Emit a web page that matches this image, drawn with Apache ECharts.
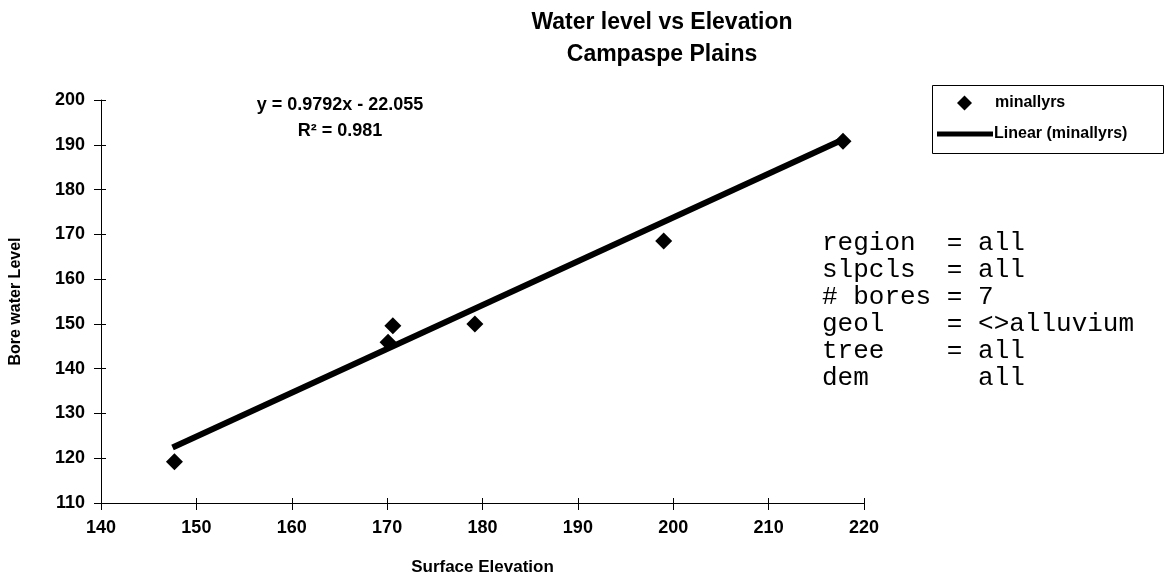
<!DOCTYPE html>
<html>
<head>
<meta charset="utf-8">
<script src="https://cdn.jsdelivr.net/npm/echarts@6/dist/echarts.min.js"></script>
<style>
  html, body { margin: 0; padding: 0; background: #fff; }
  #chart { width: 1169px; height: 586px; }
</style>
</head>
<body>
<div id="chart"></div>
<script>
// bore points (surface elevation, water level)
var elevation = [147.7, 170.1, 170.6, 179.2, 199.0, 217.8];
var waterLevel = [119.2, 145.9, 149.6, 150.0, 168.5, 190.8];

// ends of the fitted line as drawn
var trendX = [147.5, 217.8];
var trendY = [122.4, 191.2];

var xTicks = { min: 140, max: 220, step: 10 };
var yTicks = { min: 110, max: 200, step: 10 };

var infoLines = [
  'region  = all',
  'slpcls  = all',
  '# bores = 7',
  'geol    = <>alluvium',
  'tree    = all',
  'dem       all'
];

var chart = echarts.init(document.getElementById('chart'));

function pairs(xs, ys) {
  var out = [];
  for (var i = 0; i < xs.length; i++) out.push([xs[i], ys[i]]);
  return out;
}

var font = 'Liberation Sans, Arial, sans-serif';

// excel style crossing ticks: one axis ticks outside, a bare twin ticks inside
function axis(pos, range, withLabels, inside) {
  return {
    type: 'value',
    position: pos,
    min: range.min,
    max: range.max,
    interval: range.step,
    splitLine: { show: false },
    axisLine: { show: withLabels, lineStyle: { color: '#000', width: 1 } },
    axisTick: { show: true, inside: inside, length: inside ? 5 : 7, lineStyle: { color: '#000' } },
    axisLabel: {
      show: withLabels, color: '#000', fontSize: 18, fontWeight: 'bold', fontFamily: font, margin: 16
    }
  };
}

var xMain = axis('bottom', xTicks, true, false);
xMain.name = 'Surface Elevation';
xMain.nameLocation = 'middle';
xMain.nameGap = 56;
xMain.nameTextStyle = { color: '#000', fontSize: 17, fontWeight: 'bold', fontFamily: font };

var yMain = axis('left', yTicks, true, false);
yMain.name = 'Bore water Level';
yMain.nameLocation = 'middle';
yMain.nameGap = 77;
yMain.nameTextStyle = { color: '#000', fontSize: 16, fontWeight: 'bold', fontFamily: font };

var option = {
  backgroundColor: '#fff',
  animation: false,
  title: {
    text: 'Water level vs Elevation\nCampaspe Plains',
    left: 657,
    top: 2,
    textAlign: 'center',
    textStyle: { color: '#000', fontSize: 23, fontWeight: 'bold', fontFamily: font, lineHeight: 32 }
  },
  grid: { left: 101, right: 305, top: 100, bottom: 83, outerBoundsMode: 'none' },
  xAxis: [xMain, axis('bottom', xTicks, false, true)],
  yAxis: [yMain, axis('left', yTicks, false, true)],
  legend: [
    {
      data: ['minallyrs'],
      left: 952, top: 90,
      icon: 'diamond',
      itemWidth: 15, itemHeight: 15,
      textStyle: { color: '#000', fontSize: 16, fontWeight: 'bold', fontFamily: font, padding: [0, 0, 0, 18] }
    },
    {
      data: ['Linear (minallyrs)'],
      left: 932, top: 121,
      icon: 'rect',
      itemWidth: 56, itemHeight: 5,
      textStyle: { color: '#000', fontSize: 16, fontWeight: 'bold', fontFamily: font, padding: [0, 0, 0, -4] }
    }
  ],
  graphic: [
    {
      type: 'rect', left: 930, top: 83,
      shape: { width: 231, height: 68 },
      style: { fill: 'none', stroke: '#000', lineWidth: 1 }
    },
    {
      type: 'text', x: 340, y: 92,
      style: {
        text: 'y = 0.9792x - 22.055\nR² = 0.981',
        align: 'center', fill: '#000', fontSize: 18, fontWeight: 'bold', fontFamily: font, lineHeight: 26
      }
    },
    {
      type: 'text', left: 822, top: 230,
      style: {
        text: infoLines.join('\n'),
        fill: '#000', fontSize: 26, fontFamily: 'Liberation Mono, Courier New, monospace', lineHeight: 27
      }
    }
  ],
  series: [
    {
      name: 'minallyrs',
      type: 'scatter',
      symbol: 'diamond',
      symbolSize: 17,
      itemStyle: { color: '#000', opacity: 1 },
      data: pairs(elevation, waterLevel)
    },
    {
      name: 'Linear (minallyrs)',
      type: 'line',
      showSymbol: false,
      lineStyle: { color: '#000', width: 6 },
      itemStyle: { color: '#000' },
      data: pairs(trendX, trendY)
    }
  ]
};

chart.setOption(option);
</script>
</body>
</html>
